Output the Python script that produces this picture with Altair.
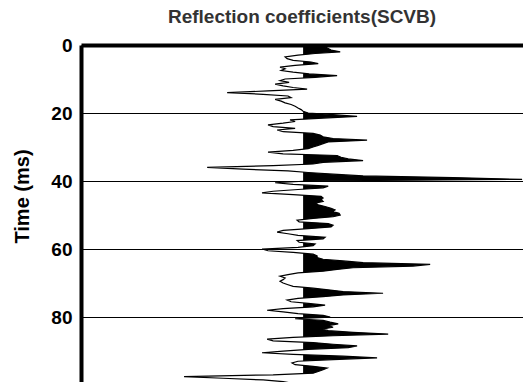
import altair as alt
import numpy as np
import pandas as pd

# Sample interval (ms) and reflection coefficients (x 1e-3), one value per 0.5 ms
dt_ms = 0.5
rc_milli = [
    9.0, 9.9, 11.3, 12.6, 16.7, 5.4, -2.3, -8.1, -7.2, -4.5,          # 0 - 4.5
    3.6, 6.8, -3.6, -10.4, -8.1, -9.9, -4.5, 2.7, 15.3, 5.4,          # 5 - 9.5
    -8.1, -10.4, -6.3, -12.6, -9.0, -4.5, 1.8, -15.8, -34.2, -18.0,   # 10 - 14.5
    -6.8, -5.4, -12.6, -9.9, -8.1, -5.4, -3.6, -2.3, -0.9, 0.0,       # 15 - 19.5
    2.3, 13.5, 24.3, 9.0, -5.9, -3.6, -9.0, -15.8, -13.5, -3.6,       # 20 - 24.5
    -11.7, -9.0, 4.5, 7.7, 9.0, 13.5, 28.8, 11.3, 9.0, 6.8,           # 25 - 29.5
    4.5, 2.3, -4.5, -15.8, -9.0, 15.3, 17.1, 20.3, 27.0, 9.0,         # 30 - 34.5
    4.5, -13.5, -43.2, -27.0, -6.8, 2.3, 13.5, 27.0, 67.5, 98.6,      # 35 - 39.5
    2.3, -12.6, -4.5, 11.3, 9.0, -2.3, -13.5, -18.5, -4.5, 8.1,       # 40 - 44.5
    9.0, 8.1, 9.0, 5.4, 6.8, 9.9, 12.6, 14.4, 13.5, 16.2,             # 45 - 49.5
    16.7, 13.5, 4.5, -2.7, -1.8, 11.3, 13.5, 12.6, 2.3, -9.0,         # 50 - 54.5
    -11.7, -6.8, -2.3, 9.9, 9.0, -2.7, -1.8, 5.4, 4.5, -2.3,          # 55 - 59.5
    -18.5, -15.8, -4.5, 4.5, 6.3, 6.3, 9.0, 18.0, 27.0, 57.2,         # 60 - 64.5
    49.5, 22.5, 15.3, 9.0, -2.3, -6.8, -10.4, -8.1, -9.0, -10.4,      # 65 - 69.5
    -9.0, -6.8, -4.5, 4.5, 11.3, 18.0, 36.0, 18.0, 9.0, -2.3,         # 70 - 74.5
    -7.2, -5.4, 2.3, 9.9, 4.5, -9.0, -16.2, -9.0, -2.3, 9.0,          # 75 - 79.5
    12.2, -3.6, 9.0, 12.2, 15.8, 11.3, 13.5, 9.0, 11.3, 22.5,         # 80 - 84.5
    38.3, 13.5, -4.5, -16.2, -13.5, 4.5, 13.5, 24.3, 20.3, 2.3,       # 85 - 89.5
    -9.0, -18.5, -4.5, 18.0, 33.3, 13.5, -2.3, -5.0, -3.6, 4.5,       # 90 - 94.5
    10.8, 9.0, 6.8, 4.5, -13.5, -53.6, -36.0, -18.0, -9.0, -4.5,      # 95 - 99.5
    0.0,                                                              # 100
]
y_ticks = [0, 20, 40, 60, 80]
title_text = "Reflection coefficients(SCVB)"
y_title = "Time (ms)"

t = [i * dt_ms for i in range(len(rc_milli))]
rc = [v / 1000.0 for v in rc_milli]
trace = pd.DataFrame({"t": t, "rc": rc})

# positive lobes: clip at zero, inserting the zero crossings
rows = []
for i in range(len(rc) - 1):
    t0, v0, t1, v1 = t[i], rc[i], t[i + 1], rc[i + 1]
    rows.append((t0, max(v0, 0.0)))
    if v0 * v1 < 0:
        tc = t0 + (t1 - t0) * v0 / (v0 - v1)
        rows.append((tc, 0.0))
rows.append((t[-1], max(rc[-1], 0.0)))
pos = pd.DataFrame(rows, columns=["t", "pos"])

FONT = "Liberation Sans"

yscale = alt.Scale(domain=[0, 99.1], reverse=True, nice=False, zero=False)
xscale = alt.Scale(domain=[-0.1, 0.099], nice=False, zero=False)

yaxis = alt.Axis(
    values=y_ticks, title=y_title, grid=True, gridColor="black", gridWidth=1,
    gridOpacity=1, domainColor="black", domainWidth=4, ticks=False,
    labelFont=FONT, labelFontWeight="bold", labelFontSize=19, labelColor="black",
    labelPadding=9, titleFont=FONT, titleFontWeight="bold", titleFontSize=20,
    titleColor="black", titleX=-59, titleY=151, titleAngle=270,
    titleAlign="center", titleBaseline="middle",
)
xaxis = alt.Axis(
    orient="top", labels=False, ticks=False, grid=False, title="",
    domainColor="black", domainWidth=4,
)

area = alt.Chart(pos).mark_area(orient="horizontal", color="black", clip=True).encode(
    y=alt.Y("t:Q", scale=yscale, axis=yaxis),
    x=alt.X("pos:Q", scale=xscale, axis=xaxis),
    x2=alt.datum(0),
)

line = alt.Chart(trace).mark_line(color="black", strokeWidth=1.2, clip=True).encode(
    y=alt.Y("t:Q", scale=yscale, axis=yaxis),
    x=alt.X("rc:Q", scale=xscale, axis=xaxis),
    order="t:Q",
)

chart = (
    alt.layer(area, line)
    .properties(
        width=442,
        height=337,
        autosize=alt.AutoSizeParams(type="none"),
        padding={"left": 81, "top": 45, "right": 0, "bottom": 0},
        background="white",
        title=alt.TitleParams(
            title_text, font=FONT, fontSize=19, fontWeight="bold",
            color="#333333", anchor="middle", offset=9,
        ),
    )
    .configure_view(stroke="transparent")
)

chart.save("out.html", embed_options={"renderer": "svg", "actions": False})
